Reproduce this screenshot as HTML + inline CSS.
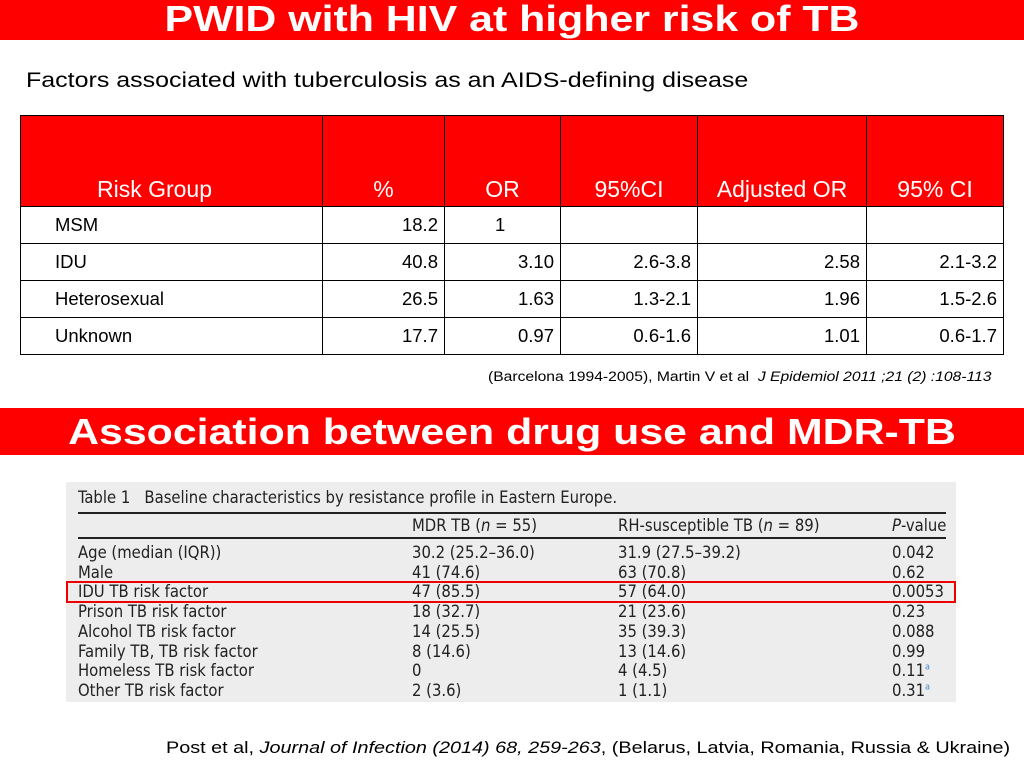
<!DOCTYPE html>
<html><head><meta charset="utf-8"><style>
body{margin:0;width:1024px;height:768px;background:#fff;position:relative;overflow:hidden;font-family:"Liberation Sans",sans-serif}
.ab{position:absolute;white-space:nowrap;transform-origin:0 0}
.banner{position:absolute;left:0;width:1024px;background:#f00;overflow:hidden}
.banner span{position:absolute;left:50%;color:#fff;font-weight:bold;font-size:36px;white-space:nowrap;transform:translateX(-50%) scaleX(1.19)}
table.t1{position:absolute;left:20px;top:115px;border-collapse:collapse;font-family:"Liberation Sans",sans-serif;font-size:18.5px}
table.t1 td{border:1px solid #000;height:36px;padding:0 6px;text-align:right}
table.t1 tr.h td{background:#f00;color:#fff;height:87px;vertical-align:bottom;padding-bottom:3px;text-align:center;font-size:23px;border-color:#000}
table.t1 td.l{text-align:left;padding-left:34px}
.t2{position:absolute;left:66px;top:482px;width:890px;height:220px;background:#ededed;font-family:"DejaVu Sans Condensed","Liberation Sans Narrow","Liberation Sans",sans-serif;font-size:16.5px;color:#222}
.t2 div{position:absolute;white-space:nowrap}
sup{line-height:0;font-size:9px;color:#48c}
</style></head><body>
<div class="banner" style="top:0;height:40px"><span style="top:-2px">PWID with HIV at higher risk of TB</span></div>
<div class="ab" style="left:26px;top:69px;font-size:21px;transform:scaleX(1.19)">Factors associated with tuberculosis as an AIDS-defining disease</div>
<table class="t1">
<colgroup><col style="width:302px"><col style="width:122px"><col style="width:116px"><col style="width:137px"><col style="width:169px"><col style="width:137px"></colgroup>
<tr class="h"><td style="text-align:center;padding-right:40px">Risk Group</td><td>%</td><td>OR</td><td>95%CI</td><td>Adjusted OR</td><td>95% CI</td></tr>
<tr><td class="l">MSM</td><td>18.2</td><td style="text-align:left;padding-left:50px">1</td><td></td><td></td><td></td></tr>
<tr><td class="l">IDU</td><td>40.8</td><td>3.10</td><td>2.6-3.8</td><td>2.58</td><td>2.1-3.2</td></tr>
<tr><td class="l">Heterosexual</td><td>26.5</td><td>1.63</td><td>1.3-2.1</td><td>1.96</td><td>1.5-2.6</td></tr>
<tr><td class="l">Unknown</td><td>17.7</td><td>0.97</td><td>0.6-1.6</td><td>1.01</td><td>0.6-1.7</td></tr>
</table>
<div class="ab" style="left:488px;top:369px;font-size:13.5px;transform:scaleX(1.16)">(Barcelona 1994-2005), Martin V et al&nbsp; <i>J Epidemiol 2011 ;21 (2) :108-113</i></div>
<div class="banner" style="top:408px;height:47px"><span style="top:3px">Association between drug use and MDR-TB</span></div>
<div class="t2">
<div style="left:12px;top:6px">Table 1&nbsp;&nbsp;&nbsp;Baseline characteristics by resistance profile in Eastern Europe.</div>
<div style="left:12px;top:30px;width:868px;height:2px;background:#222"></div>
<div style="left:346px;top:34px">MDR TB (<i>n</i> = 55)</div><div style="left:552px;top:34px">RH-susceptible TB (<i>n</i> = 89)</div><div style="left:826px;top:34px"><i>P</i>-value</div>
<div style="left:12px;top:55px;width:868px;height:2px;background:#222"></div>
<div style="left:12px;top:61px;line-height:19.7px">Age (median (IQR))<br>Male<br>IDU TB risk factor<br>Prison TB risk factor<br>Alcohol TB risk factor<br>Family TB, TB risk factor<br>Homeless TB risk factor<br>Other TB risk factor</div>
<div style="left:346px;top:61px;line-height:19.7px">30.2 (25.2–36.0)<br>41 (74.6)<br>47 (85.5)<br>18 (32.7)<br>14 (25.5)<br>8 (14.6)<br>0<br>2 (3.6)</div>
<div style="left:552px;top:61px;line-height:19.7px">31.9 (27.5–39.2)<br>63 (70.8)<br>57 (64.0)<br>21 (23.6)<br>35 (39.3)<br>13 (14.6)<br>4 (4.5)<br>1 (1.1)</div>
<div style="left:826px;top:61px;line-height:19.7px">0.042<br>0.62<br>0.0053<br>0.23<br>0.088<br>0.99<br>0.11<sup>a</sup><br>0.31<sup>a</sup></div>
</div>
<div class="ab" style="left:66px;top:581px;width:886px;height:18px;border:2px solid #e00"></div>
<div class="ab" style="left:166px;top:739px;font-size:16.5px;transform:scaleX(1.2)">Post et al, <i>Journal of Infection (2014) 68, 259-263</i>, (Belarus, Latvia, Romania, Russia &amp; Ukraine)</div>
</body></html>
